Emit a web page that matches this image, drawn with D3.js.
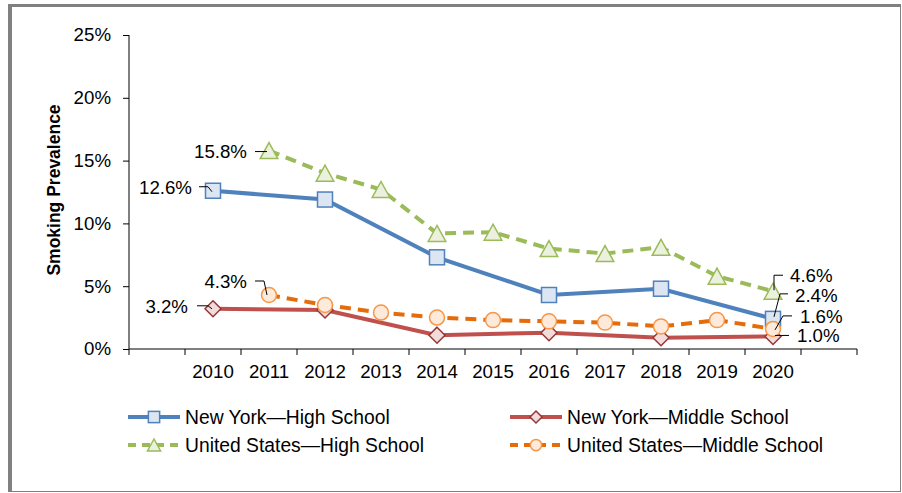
<!DOCTYPE html>
<html>
<head>
<meta charset="utf-8">
<script src="https://cdn.jsdelivr.net/npm/d3@7"></script>
<style>
  body { margin: 0; background: #fff; }
  text { font-family: "Liberation Sans", Arial, sans-serif; fill: #000; }
</style>
</head>
<body>
<svg id="chart"></svg>
<script>
// data
const years = [2010, 2011, 2012, 2013, 2014, 2015, 2016, 2017, 2018, 2019, 2020];
const nyHigh = [12.6, null, 11.9, null, 7.3, null, 4.3, null, 4.8, null, 2.4];
const nyMiddle = [3.2, null, 3.1, null, 1.1, null, 1.3, null, 0.9, null, 1.0];
const usHigh = [null, 15.8, 14.0, 12.7, 9.2, 9.3, 8.0, 7.6, 8.1, 5.8, 4.6];
const usMiddle = [null, 4.3, 3.5, 2.9, 2.5, 2.3, 2.2, 2.1, 1.8, 2.3, 1.6];
const yTicks = [0, 5, 10, 15, 20, 25];

const width = 902, height = 493;
const margin = { top: 35, right: 45, bottom: 144, left: 129 };
const fs = 18.7;

const svg = d3.select('#chart')
  .attr('width', width)
  .attr('height', height);

// frame
svg.append('rect').attr('x', 8).attr('y', 4).attr('width', 893).attr('height', 488)
  .attr('fill', '#808080');
svg.append('rect').attr('x', 12).attr('y', 7).attr('width', 888).attr('height', 484)
  .attr('fill', '#fff');

const xScale = d3.scaleBand()
  .domain(years)
  .range([margin.left, width - margin.right])
  .paddingInner(0)
  .paddingOuter(1);

const yScale = d3.scaleLinear()
  .domain([0, 25])
  .range([height - margin.bottom, margin.top]);

const cx = yr => xScale(yr) + xScale.bandwidth() / 2;
const y0 = yScale(0);

// y axis
const yAxis = svg.append('g')
  .attr('transform', `translate(${margin.left},0)`)
  .call(d3.axisLeft(yScale).tickValues(yTicks).tickSize(6).tickPadding(12)
    .tickFormat(d => d + '%'));
yAxis.select('.domain').attr('stroke', '#000').attr('d', `M0,${yScale(25)}V${y0}`);
yAxis.selectAll('text').attr('font-size', fs).attr('font-family', 'Liberation Sans, Arial, sans-serif');

// x axis: labels at band centers, ticks at band edges
const xAxis = svg.append('g')
  .attr('transform', `translate(0,${y0})`)
  .call(d3.axisBottom(xScale).tickSize(0).tickPadding(16));
xAxis.select('.domain').attr('stroke', '#000')
  .attr('d', `M${margin.left},0H${width - margin.right}`);
xAxis.selectAll('text').attr('font-size', fs).attr('font-family', 'Liberation Sans, Arial, sans-serif');
const edges = d3.range(years.length + 3).map(i => margin.left + i * xScale.step());
xAxis.selectAll('.edge').data(edges).enter().append('line')
  .attr('x1', d => d).attr('x2', d => d).attr('y1', 0).attr('y2', 6)
  .attr('stroke', '#000');

// y title
svg.append('text')
  .attr('transform', `translate(60,190) rotate(-90)`)
  .attr('text-anchor', 'middle')
  .attr('font-size', 17.5)
  .attr('font-weight', 'bold')
  .text('Smoking Prevalence');

// markers
function marker(g, type, x, y, s, st) {
  let el;
  if (type === 'square') {
    el = g.append('rect').attr('x', x - s / 2).attr('y', y - s / 2).attr('width', s).attr('height', s);
  } else if (type === 'circle') {
    el = g.append('circle').attr('cx', x).attr('cy', y).attr('r', s / 2);
  } else if (type === 'diamond') {
    const h = s / 2;
    el = g.append('path').attr('d', `M${x},${y - h}L${x + h},${y}L${x},${y + h}L${x - h},${y}Z`);
  } else {
    const w = s * 1.1 / 2, h = s / 2;
    el = g.append('path').attr('d', `M${x},${y - h}L${x + w},${y + h}L${x - w},${y + h}Z`);
  }
  el.attr('fill', st.fill).attr('stroke', st.edge).attr('stroke-width', 1.5);
}

const series = [
  { name: 'New York\u2014High School', values: nyHigh, color: '#4F81BD', dash: null,
    shape: 'square', size: 15, fill: '#DCE6F2', edge: '#4F81BD' },
  { name: 'New York\u2014Middle School', values: nyMiddle, color: '#C0504D', dash: null,
    shape: 'diamond', size: 16, fill: '#F2DCDB', edge: '#953735' },
  { name: 'United States\u2014High School', values: usHigh, color: '#9BBB59', dash: '11,7',
    shape: 'triangle', size: 16, fill: '#EBF1DE', edge: '#9BBB59' },
  { name: 'United States\u2014Middle School', values: usMiddle, color: '#E46C0A', dash: '11,7',
    shape: 'circle', size: 15, fill: '#FDEADA', edge: '#F79646' }
];

const line = d3.line().x(d => cx(d.year)).y(d => yScale(d.v));

series.forEach(s => {
  const pts = years.map((year, i) => ({ year, v: s.values[i] })).filter(d => d.v != null);
  const g = svg.append('g');
  g.append('path')
    .datum(pts)
    .attr('d', line)
    .attr('fill', 'none')
    .attr('stroke', s.color)
    .attr('stroke-width', 4)
    .attr('stroke-dasharray', s.dash);
  pts.forEach(d => marker(g, s.shape, cx(d.year), yScale(d.v), s.size, s));
});

// data labels with leader lines (offsets from the marker)
const labels = [
  { s: 2, year: 2011, anchor: 'end', tx: -22, ty: 7, lead: [[-14, 1], [-2, 1]] },
  { s: 0, year: 2010, anchor: 'end', tx: -21, ty: 3, lead: [[-14, -4], [-5, -4], [-1, 1]] },
  { s: 3, year: 2011, anchor: 'end', tx: -22, ty: -7, lead: [[-14, -14], [-5, -14], [-2, 0]] },
  { s: 1, year: 2010, anchor: 'end', tx: -25, ty: 4, lead: [[-16, -3], [-5, -3], [-1, 0]] },
  { s: 2, year: 2020, anchor: 'start', tx: 17, ty: -9, lead: [[10, -16], [1, -16], [1, -1]] },
  { s: 0, year: 2020, anchor: 'start', tx: 22, ty: -17, lead: [[15, -25], [7, -25], [1, -2]] },
  { s: 3, year: 2020, anchor: 'start', tx: 27, ty: -6, lead: [[19, -13], [10, -13], [2, 1]] },
  { s: 1, year: 2020, anchor: 'start', tx: 24, ty: 6, lead: [[16, -1], [2, -1]] }
];

labels.forEach(l => {
  const s = series[l.s];
  const v = s.values[years.indexOf(l.year)];
  const x = cx(l.year), y = yScale(v);
  svg.append('path')
    .attr('d', d3.line()(l.lead.map(p => [x + p[0], y + p[1]])))
    .attr('fill', 'none')
    .attr('stroke', '#000')
    .attr('stroke-width', 1);
  svg.append('text')
    .attr('x', x + l.tx)
    .attr('y', y + l.ty)
    .attr('text-anchor', l.anchor)
    .attr('font-size', fs)
    .text(v.toFixed(1) + '%');
});

// legend
const legendPos = [[128, 417], [510, 417], [128, 445], [510, 445]];
series.forEach((s, i) => {
  const [lx, ly] = legendPos[i];
  const g = svg.append('g');
  g.append('line')
    .attr('x1', lx).attr('x2', lx + 52).attr('y1', ly).attr('y2', ly)
    .attr('stroke', s.color).attr('stroke-width', 4)
    .attr('stroke-dasharray', s.dash ? '8,6' : null);
  marker(g, s.shape, lx + 26, ly, s.size * 0.75, s);
  g.append('text')
    .attr('x', lx + 57)
    .attr('y', ly)
    .attr('dy', '0.35em')
    .attr('font-size', 19.3)
    .text(s.name);
});
</script>
</body>
</html>
